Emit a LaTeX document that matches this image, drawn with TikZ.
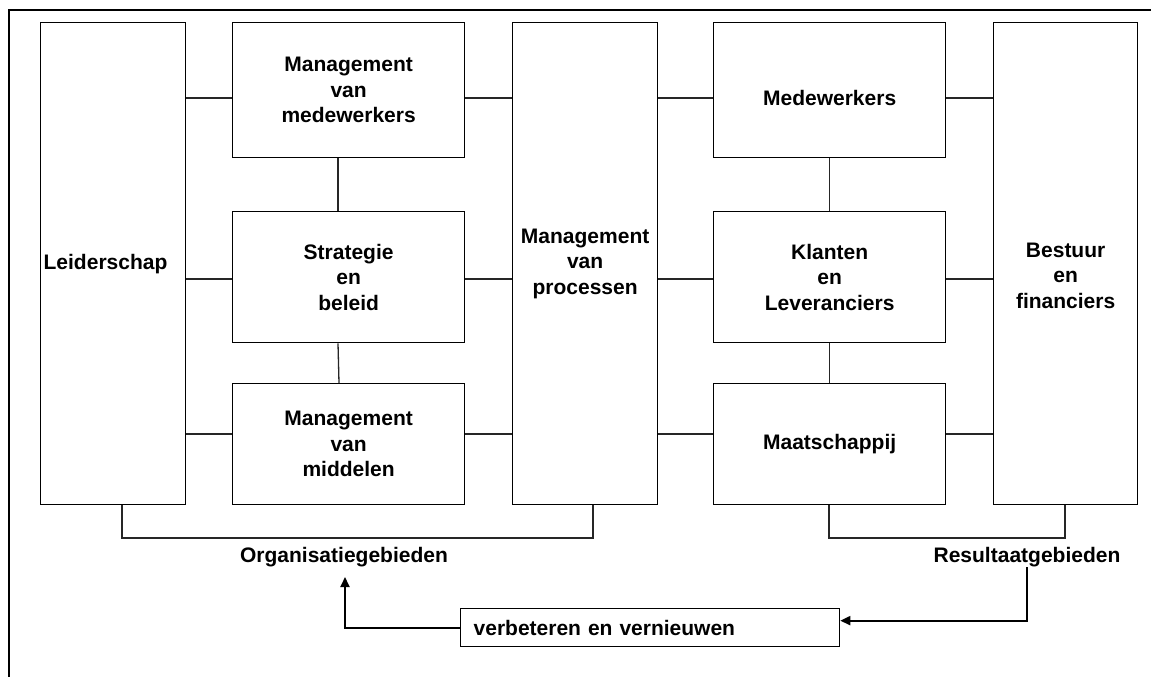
\documentclass[tikz,border=0pt]{standalone}
\usepackage{fontspec}
\setmainfont{Liberation Sans}
\usetikzlibrary{arrows.meta}
\begin{document}
\begin{tikzpicture}[x=1pt,y=-1pt,
  box/.style={draw=black,line width=1.3pt,anchor=north west,inner sep=0pt,align=center,
    font=\fontsize{21}{25.5}\selectfont\bfseries},
  conn/.style={draw=black!85,line width=1.3pt},
  arr/.style={draw=black,line width=2pt,-{Triangle[length=10pt,width=9pt]}},
  lbl/.style={font=\fontsize{21}{25.5}\selectfont\bfseries,inner sep=0pt}]
\useasboundingbox (0,0) rectangle (1151,677);
% outer frame (cut off right and bottom)
\draw[line width=1.8pt] (9,677) -- (9,10) -- (1151,10);
% boxes
\node[box,minimum width=145pt,minimum height=482pt,text width=139pt,align=left,inner xsep=3pt] (L) at (40,22) {Leiderschap};
\node[box,minimum width=232pt,minimum height=135pt] (MM) at (232,22) {Management\\van\\medewerkers};
\node[box,minimum width=232pt,minimum height=131pt] (SB) at (232,211) {Strategie\\en\\beleid};
\node[box,minimum width=232pt,minimum height=121pt] (MI) at (232,383) {Management\\van\\middelen};
\node[box,minimum width=145pt,minimum height=482pt] (P) at (512,22) {Management\\van\\processen};
\node[box,minimum width=232pt,minimum height=135pt,
  label={[lbl,yshift=-8pt]center:Medewerkers}] (ME) at (713,22) {};
\node[box,minimum width=232pt,minimum height=131pt] (KL) at (713,211) {Klanten\\en\\Leveranciers};
\node[box,minimum width=232pt,minimum height=121pt] (MA) at (713,383) {Maatschappij};
\node[box,minimum width=144pt,minimum height=482pt,
  label={[lbl,align=center,yshift=-12pt]center:Bestuur\\en\\financiers}] (B) at (993,22) {};
% horizontal connectors
\foreach \yy/\a/\b in {98/L/MM,279/L/SB,434/L/MI,98/MM/P,279/SB/P,434/MI/P,
                       98/P/ME,279/P/KL,434/P/MA,98/ME/B,279/KL/B,434/MA/B}{
  \draw[conn] (\a.east |- 0,\yy) -- (\b.west |- 0,\yy);
}
% vertical connectors
\draw[conn] (MM.south -| 338,0) -- (SB.north -| 338,0);
\draw[conn] (SB.south -| 338,0) -- (MI.north -| 339,0);
\draw[conn] (ME.south) -- (KL.north);
\draw[conn] (KL.south) -- (MA.north);
% brackets
\draw[conn] (L.south -| 122,0) -- (122,538) -- (593,538) -- (P.south -| 593,0);
\draw[conn] (MA.south -| 829,0) -- (829,538) -- (1065,538) -- (B.south -| 1065,0);
% labels
\node[lbl] (OG) at (344,557) {Organisatiegebieden};
\node[lbl] (RG) at (1027,557) {Resultaatgebieden};
% improvement box
\node[draw=black,line width=1.3pt,anchor=north west,minimum width=379pt,minimum height=38pt,
  text width=353pt,inner xsep=13pt,inner ysep=0pt,align=left,
  font=\fontsize{21}{25}\selectfont\bfseries] (V) at (460,608) {verbeteren en vernieuwen};
\coordinate (OGtip) at (345,577);
\coordinate (RGstart) at (1027,567);
\draw[arr] (V.west) -| (OGtip);
\draw[arr] (RGstart) |- ([yshift=7pt]V.east);
\end{tikzpicture}
\end{document}
